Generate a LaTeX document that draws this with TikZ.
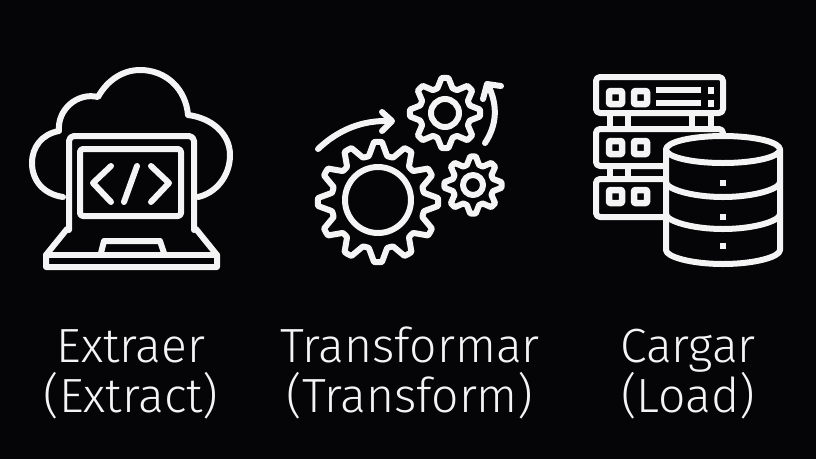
\documentclass[tikz,border=0pt]{standalone}
\usepackage{fontspec}
\setmainfont[UprightFont=* Light]{Fira Sans}
\definecolor{bg}{HTML}{050508}
\definecolor{ink}{HTML}{F4F4F4}
\tikzset{
  icon/.style={draw=ink,line width=6pt,line join=round,line cap=round},
  label/.style={text=ink,font=\fontsize{48}{55}\selectfont,align=center,anchor=base},
  pip/.style={fill=ink,draw=none}
}
% #1 x, #2 y, #3 valley r, #4 tip r, #5 teeth, #6 rotation
\newcommand{\gearshape}[6]{%
  \pgfmathsetmacro{\st}{360/#5}%
  \draw[icon] plot[smooth cycle,tension=0.12,samples at={0,...,\numexpr#5*4-1\relax}] ({#1+(mod(\x,4)==1||mod(\x,4)==2?#4:#3)*cos(#6+\x*\st/4-\st*0.375)},{#2+(mod(\x,4)==1||mod(\x,4)==2?#4:#3)*sin(#6+\x*\st/4-\st*0.375)});%
}
\begin{document}
\begin{tikzpicture}[x=1pt,y=-1pt]
\useasboundingbox (0,0) rectangle (816,459);
\fill[bg] (0,0) rectangle (816,459);
% cloud
\draw[icon] (63,197) .. controls (43,194) and (32,180) .. (32,163) .. controls (32,147) and (42,134) .. (59,131)
 .. controls (57,110) and (77,92) .. (98,97) .. controls (108,79) and (124,70) .. (140,70)
 .. controls (167,70) and (186,90) .. (188,115) .. controls (212,118) and (230,134) .. (230,155)
 .. controls (230,176) and (216,193) .. (198,197);
% laptop
\draw[icon,rounded corners=5pt] (69,230) -- (69,136) -- (194,136) -- (194,230);
\draw[icon,rounded corners=3pt] (80,149) rectangle (181,216);
\draw[icon] (67,229) -- (46,255) -- (46,267) -- (217,267) -- (217,255) -- (196,229);
\draw[icon] (46,255) -- (217,255);
\draw[icon] (101,253) -- (104,241) -- (160,241) -- (164,253);
\draw[icon] (111,166) -- (93,183) -- (111,202);
\draw[icon] (137,166) -- (124,202);
\draw[icon] (151,166) -- (169,183) -- (151,202);
% gears
\gearshape{378}{202}{47}{60}{12}{-90}
\draw[icon] (378,200) circle (33);
\gearshape{445}{113}{26}{35}{8}{-90}
\draw[icon] (445,113) circle (14);
\gearshape{473}{185}{21}{28.5}{8}{-90}
\draw[icon] (473,185) circle (10);
% arrows
\draw[icon] (318,149) .. controls (338,130) and (362,120) .. (390,121);
\draw[icon] (382,112) -- (392,121) -- (382,131);
\draw[icon] (485,143) .. controls (497,125) and (498,105) .. (488,85);
\draw[icon] (483,99) -- (487,84) -- (501,86);
% servers
\draw[icon,rounded corners=4pt] (596,77) rectangle (723,113);
\draw[icon,rounded corners=4pt] (596,129) rectangle (723,166);
\draw[icon,rounded corners=4pt] (596,179) rectangle (723,217);
\foreach \px in {610,628,692,711}{\draw[icon,line cap=butt] (\px,113) -- (\px,129);}
\foreach \px in {610,628,692,711}{\draw[icon,line cap=butt] (\px,166) -- (\px,179);}
\foreach \sy/\ey in {91/104,141/154,190/203}{
  \draw[icon,rounded corners=1pt,line width=6.5pt] (609,\sy) rectangle (622,\ey);
  \draw[icon,rounded corners=1pt,line width=6.5pt] (634,\sy) rectangle (647,\ey);
}
\draw[icon,line cap=butt] (656,90) -- (701,90);
\draw[icon,line cap=butt] (656,103) -- (701,103);
\fill[pip] (708,87) rectangle (714,94);
\fill[pip] (708,100) rectangle (714,107);
% cylinder
\fill[bg] (723,149.5) ellipse[x radius=57,y radius=13.5];
\fill[bg] (666,149.5) rectangle (780,250);
\fill[bg] (723,250) ellipse[x radius=57,y radius=14];
\draw[icon] (723,149.5) ellipse[x radius=57,y radius=13.5];
\draw[icon] (666,149.5) -- (666,250) .. controls (666,257) and (692,264) .. (723,264) .. controls (754,264) and (780,257) .. (780,250) -- (780,149.5);
\draw[icon] (666,182) .. controls (666,189) and (692,197) .. (723,197) .. controls (754,197) and (780,189) .. (780,182);
\draw[icon] (666,214) .. controls (666,221) and (692,229) .. (723,229) .. controls (754,229) and (780,221) .. (780,214);
\fill[pip] (720,180) rectangle (726,186);
\fill[pip] (720,214) rectangle (726,220);
\fill[pip] (720,243) rectangle (726,249);
% labels
\node[label] (extract) at (131,362) {Extraer};
\node[label] (extract2) at (131,412) {(Extract)};
\node[label] (transform) at (410,362) {Transformar};
\node[label] (transform2) at (410,412) {(Transform)};
\node[label] (load) at (688,362) {Cargar};
\node[label] (load2) at (688,412) {(Load)};
\end{tikzpicture}
\end{document}
